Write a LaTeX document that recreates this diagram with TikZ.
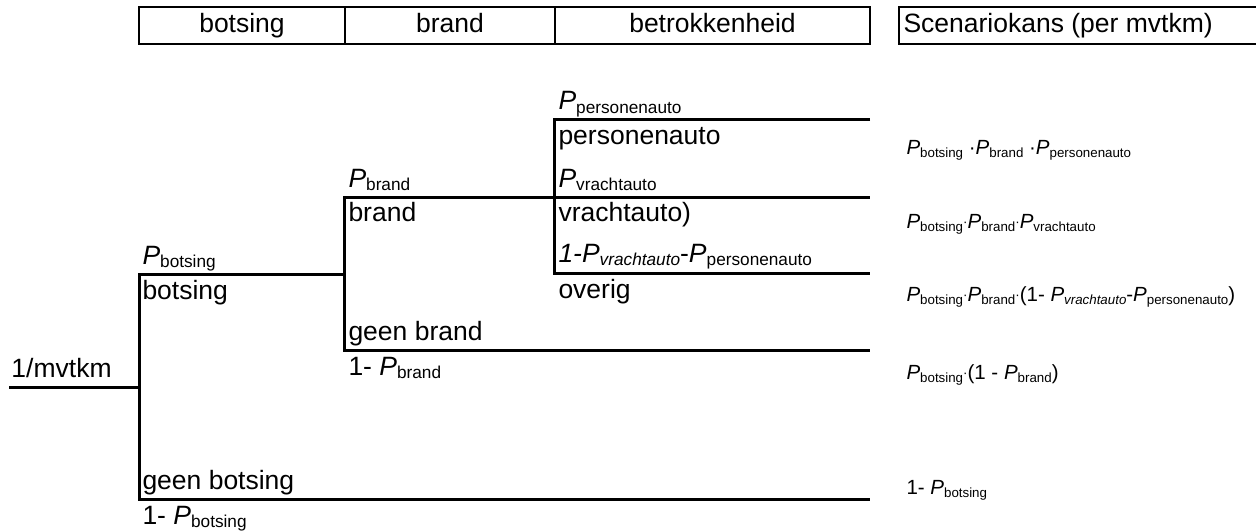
\documentclass[tikz,border=0pt]{standalone}
\usepackage{fontspec}
\setmainfont{Liberation Sans}
\usepackage{graphicx}
\usepackage{tikz}
\newcommand{\Pidx}[1]{\textit{P}\raisebox{-0.15em}{\scalebox{0.65}{#1}}}
\newcommand{\pdot}{\raisebox{0.05em}{\scalebox{0.65}{\textperiodcentered}}}

\begin{document}
\begin{tikzpicture}[x=1pt, y=-1pt, line width=3pt,
    lbl/.style={anchor=base west, inner sep=0pt, font=\fontsize{26.5}{30}\selectfont},
    frm/.style={anchor=base west, inner sep=0pt, font=\fontsize{20.5}{24}\selectfont},
    cell/.style={draw, line width=2.2pt, inner sep=0pt, minimum height=37pt, text height=19pt, text depth=5.5pt, font=\fontsize{26.5}{30}\selectfont}]
  \useasboundingbox (0,0) rectangle (1256,532);

  % header
  \node[cell, minimum width=206pt] (hbotsing) at (242,25.5) {botsing};
  \node[cell, minimum width=210pt] (hbrand) at (450,25.5) {brand};
  \node[cell, minimum width=315pt] (hbetrok) at (712.5,25.5) {betrokkenheid};
  \draw[line width=1.6pt] (1256,7) -- (899,7) -- (899,44) -- (1256,44);
  \node[lbl] (hscen) at (902,33) {Scenariokans (per mvtkm)};

  % tree
  \coordinate (start) at (9,387);
  \coordinate (n1) at (139,387);
  \coordinate (n1a) at (139,274);
  \coordinate (n1b) at (139,499);
  \coordinate (n2) at (344,274);
  \coordinate (n2a) at (344,197);
  \coordinate (n2b) at (344,350);
  \coordinate (n3) at (554,197);
  \coordinate (n3a) at (554,120);
  \coordinate (n3b) at (554,273);
  \coordinate (e1) at (870,120);
  \coordinate (e2) at (870,197);
  \coordinate (e3) at (870,273);
  \coordinate (e4) at (870,350);
  \coordinate (e5) at (870,499);

  \draw (start) -- (n1);
  \draw (n2) -- (n1a) -- (n1b) -- (e5);
  \draw (n3) -- (n2a) -- (n2b) -- (e4);
  \draw (e1) -- (n3a) -- (n3b) -- (e3);
  \draw (n3) -- (e2);

  \node[lbl] (mvtkm) at (10,377) {1/mvtkm};
  \node[lbl] (pbots) at (141,264) {\Pidx{botsing}};
  \node[lbl] (bots) at (141,299) {botsing};
  \node[lbl] (geenbots) at (141,489) {geen botsing};
  \node[lbl] (npbots) at (141,524) {1- \Pidx{botsing}};
  \node[lbl] (pbrand) at (347,187) {\Pidx{brand}};
  \node[lbl] (brand) at (347,222) {brand};
  \node[lbl] (geenbrand) at (347,340) {geen brand};
  \node[lbl] (npbrand) at (347,375) {1- \Pidx{brand}};
  \node[lbl] (ppers) at (557,110) {\Pidx{personenauto}};
  \node[lbl] (pers) at (557,145) {personenauto};
  \node[lbl] (pvracht) at (557,187) {\Pidx{vrachtauto}};
  \node[lbl] (vracht) at (557,222) {vrachtauto)};
  \node[lbl] (poverig) at (557,262) {\textit{1-}\Pidx{\textit{vrachtauto}}-\Pidx{personenauto}};
  \node[lbl] (overig) at (557,298) {overig};

  % scenariokansen
  \node[frm] (s1) at (905,154) {\Pidx{botsing} \textperiodcentered\Pidx{brand} \textperiodcentered\Pidx{personenauto}};
  \node[frm] (s2) at (905,228) {\Pidx{botsing}\pdot\Pidx{brand}\pdot\Pidx{vrachtauto}};
  \node[frm] (s3) at (905,301) {\Pidx{botsing}\pdot\Pidx{brand}\pdot(1- \Pidx{\textit{vrachtauto}}-\Pidx{personenauto})};
  \node[frm] (s4) at (905,379) {\Pidx{botsing}\pdot(1 - \Pidx{brand})};
  \node[frm] (s5) at (905,494) {1- \Pidx{botsing}};
\end{tikzpicture}
\end{document}
